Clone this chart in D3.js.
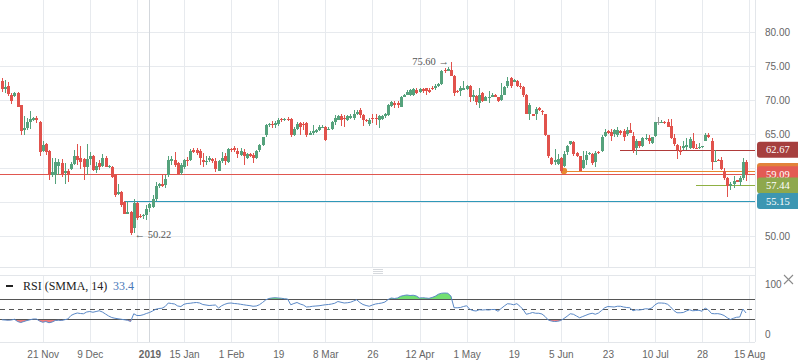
<!DOCTYPE html>
<html lang="en">
<head>
<meta charset="UTF-8">
<script src="https://d3js.org/d3.v7.min.js"></script>
<title>Brent candles with RSI</title>
<style>
  body { margin: 0; background: #fff; }
  svg { display: block; font-family: "Liberation Serif", "Times New Roman", serif; }
  .axis text { fill: #666; font-size: 10px; }
</style>
</head>
<body>
<svg id="chart" width="798" height="363"></svg>
<script>
// ---- data (one bar per trading day, index 0 = left edge) ----
const opens = [
  72.8,71.6,72.1,70.8,70.6,71.0,69.2,65.6,65.9,66.7, 67.1,67.3,66.8,62.5,63.6,62.5,59.0,59.0,60.3,60.7,
  59.3,59.6,59.9,60.6,61.8,61.5,61.3,60.2,61.3,61.7, 59.7,60.7,60.3,61.5,60.2,60.2,59.0,56.2,56.5,55.0,
  53.3,53.6,51.2,54.9,53.0,52.9,53.1,54.1,54.3,55.4, 57.3,57.7,57.5,59.0,61.1,61.2,60.7,59.2,60.2,61.2,
  61.2,62.6,62.6,62.5,61.2,61.0,61.2,61.3,61.0,59.6, 61.0,61.7,60.9,62.8,62.9,62.5,61.9,62.4,61.5,62.0,
  61.9,61.5,62.6,63.4,64.8,66.3,66.5,66.3,66.4,67.2, 67.1,67.2,67.2,64.9,65.8,66.6,66.4,66.6,64.9,65.1,
  65.3,65.6,66.0,66.1,65.7,65.8,66.7,67.1,67.6,67.4, 67.1,67.3,67.3,68.0,68.5,67.8,67.0,66.5,67.4,67.4,
  67.1,67.2,67.6,67.8,69.1,69.6,69.6,69.0,70.5,70.8, 70.8,70.8,71.5,71.2,71.6,71.7,71.5,71.8,71.7,72.0,
  72.3,74.4,74.3,74.4,73.6,71.3,71.3,71.5,71.6,72.0, 70.5,70.6,69.5,71.0,69.9,70.3,70.5,70.7,70.4,70.0,
  70.8,72.1,73.3,72.7,72.8,72.1,71.9,70.8,68.0,67.9, 68.0,68.8,68.4,67.9,64.8,61.5,60.9,60.6,61.4,60.3,
  62.3,63.5,63.8,62.2,61.7,60.0,61.2,62.0,62.0,60.9, 62.3,62.5,64.7,65.5,65.35,65.0,64.9,65.4,65.5,65.0,
  65.6,64.7,62.9,63.9,63.2,64.2,64.4,63.7,64.7,66.7, 66.7,66.8,66.7,66.2,64.4,63.4,62.7,63.0,63.1,63.0,
  63.9,63.0,62.9,63.1,64.0,64.9,64.0,61.0,61.2,61.2, 59.5,58.5,57.4,57.6,58.2,58.0,58.5,60.9
];
const highs = [
  73.3,72.9,72.6,71.0,71.2,71.2,69.3,67.6,67.3,68.4, 67.5,67.6,66.9,64.0,63.7,62.6,61.4,61.4,61.3,61.3,
  60.7,59.8,60.9,62.6,63.5,63.3,61.5,63.6,62.3,61.9, 60.9,61.2,62.0,61.7,60.5,60.3,59.1,57.7,56.6,55.1,
  55.1,53.7,55.4,55.0,53.2,53.3,54.6,54.9,56.0,57.9, 57.8,58.9,59.0,61.7,61.7,62.4,60.9,60.7,61.3,61.6,
  62.8,62.9,62.9,62.8,62.2,61.7,61.8,61.5,61.4,61.2, 62.3,62.2,63.0,63.0,63.3,62.9,62.9,62.8,62.2,62.2,
  62.2,62.7,63.5,64.6,66.4,66.6,66.9,66.9,67.3,67.4, 67.3,67.5,67.3,66.0,66.7,66.8,66.8,66.7,65.4,66.3,
  65.7,66.3,66.3,66.2,66.0,66.9,67.8,67.8,68.0,67.8, 67.8,67.9,68.5,68.5,68.8,68.0,67.2,67.3,67.9,68.0,
  67.8,67.8,68.1,69.4,69.9,69.8,69.8,70.6,70.9,71.4, 71.6,71.7,71.7,71.8,71.8,71.8,71.7,72.1,72.3,72.5,
  74.4,74.7,74.8,75.6,73.7,71.4,72.1,72.8,72.2,72.2, 71.5,70.8,71.7,71.2,70.6,71.3,71.0,70.9,70.5,72.5,
  72.0,73.4,73.4,73.1,72.9,72.5,72.0,70.9,69.5,68.0, 68.9,68.9,68.5,68.0,64.9,61.6,62.8,62.1,61.6,62.5,
  63.4,64.0,63.9,62.3,61.8,62.5,62.5,62.4,62.2,62.5, 62.5,64.8,65.7,65.6,65.7,65.8,66.0,65.6,65.7,66.0,
  66.6,65.3,64.2,64.0,64.5,65.0,64.9,64.6,66.8,67.5, 67.0,66.9,67.2,67.2,65.0,63.6,63.2,63.9,64.4,64.5,
  65.1,63.6,63.7,63.3,65.1,65.2,64.4,62.7,61.3,61.6, 60.0,58.7,58.0,58.8,58.3,58.8,61.4,61.2
];
const lows = [
  71.2,71.0,70.6,69.4,70.4,68.9,64.8,64.8,65.6,65.8, 66.9,66.6,61.7,62.3,61.9,58.3,58.7,57.7,59.0,58.7,
  57.7,58.0,59.7,60.4,60.4,59.8,58.2,59.0,60.4,59.5, 59.2,59.7,60.1,60.1,60.0,58.6,55.8,56.0,54.3,53.2,
  53.2,50.22,50.5,52.4,52.7,52.5,52.3,53.6,54.1,55.2, 57.0,57.2,57.0,58.7,60.4,60.2,59.0,59.0,59.9,60.3,
  61.0,62.2,61.9,60.5,60.2,60.5,60.9,60.8,59.4,59.5, 60.8,60.5,60.7,62.4,62.3,61.4,61.7,60.5,61.3,61.6,
  60.8,61.3,62.3,63.2,64.6,66.1,65.9,65.9,66.2,66.8, 66.9,66.9,64.5,64.7,65.6,64.9,65.6,64.6,64.8,64.9,
  65.1,65.5,65.9,64.0,65.6,65.6,66.3,67.0,66.2,66.1, 66.9,67.2,67.1,67.8,67.3,66.2,66.7,66.2,66.6,66.3,
  65.9,67.1,67.4,67.6,68.9,68.8,68.8,68.9,70.4,70.7, 70.6,70.6,70.9,71.0,71.1,70.8,71.0,71.5,71.5,71.9,
  72.2,73.9,74.2,73.5,70.6,71.0,70.6,71.4,71.5,69.7, 69.9,69.2,68.8,69.7,69.8,69.5,70.4,70.4,69.7,69.8,
  70.7,71.7,71.7,72.6,71.9,71.6,70.5,67.9,67.1,67.6, 67.1,68.4,67.8,64.7,61.5,60.4,60.4,60.5,59.2,60.2,
  61.9,63.4,61.8,61.6,59.5,59.8,60.5,61.9,60.4,60.2, 62.0,62.3,64.5,65.0,64.0,64.6,64.6,64.9,64.0,64.7,
  65.1,62.2,61.9,63.0,63.1,64.1,63.6,63.6,64.6,66.3, 66.6,66.5,66.0,64.2,63.2,61.3,61.9,62.65,62.7,62.75,
  62.75,62.75,62.75,63.0,63.9,64.4,59.7,60.9,61.0,59.7, 58.2,55.7,56.8,57.0,57.9,57.4,58.2,58.1
];
const closes = [
  71.6,71.9,70.9,69.9,71.0,69.0,65.4,65.9,66.7,67.2, 67.3,67.0,62.4,63.4,62.3,59.0,59.4,60.9,60.9,59.0,
  59.6,59.0,60.6,61.8,61.2,60.9,60.2,61.3,61.7,59.7, 60.3,60.1,61.5,60.2,60.3,58.7,56.0,56.4,54.6,53.3,
  53.6,50.4,54.9,52.6,52.9,53.1,54.0,54.7,55.4,57.3, 57.6,57.4,58.4,61.2,61.3,60.5,59.1,60.4,61.2,61.0,
  62.5,62.4,62.2,61.5,60.9,61.1,61.4,61.1,59.9,61.0, 61.5,61.0,62.8,62.6,62.6,62.0,62.5,61.7,62.0,61.8,
  61.5,62.5,63.4,64.5,66.3,66.4,66.3,66.6,67.1,67.0, 67.2,67.1,64.9,65.8,66.4,66.1,66.3,64.8,65.2,65.4,
  65.6,66.0,66.1,64.1,65.8,66.7,67.4,67.6,67.1,67.2, 67.6,67.7,68.0,68.3,67.8,67.1,66.9,67.1,67.2,67.2,
  67.6,67.6,67.9,69.2,69.7,69.3,69.2,70.5,70.7,71.2, 71.5,71.6,71.0,71.6,71.3,71.3,71.2,71.6,72.1,72.3,
  74.3,74.2,74.6,73.6,71.1,71.2,71.8,71.7,72.1,70.4, 70.7,69.7,70.8,69.9,70.5,70.5,70.8,70.5,69.9,70.8,
  71.9,72.8,72.1,72.9,72.1,71.95,70.8,68.0,69.3,67.7, 68.7,68.5,68.2,64.9,61.7,60.6,61.2,61.3,59.5,62.0,
  63.2,63.9,62.0,61.8,59.6,61.2,61.9,62.2,60.7,62.2, 62.2,64.6,65.3,65.2,64.7,65.6,65.6,65.1,64.5,65.6,
  65.2,62.65,63.9,63.2,64.4,64.4,63.9,64.5,66.7,66.7, 66.8,66.6,66.1,64.4,63.6,62.6,62.4,63.2,63.4,64.2,
  63.0,62.9,63.1,63.2,64.9,64.6,60.9,61.1,61.1,59.8, 58.5,57.4,57.7,58.1,58.0,58.5,60.9,59.09
];
const rsi = [
  28.5,28,27.5,28,29.5,25,23,25,27,28.5, 30,30,26,23.5,25,22.5,24,27,27.5,27,
  28.5,30,37,40,42,41,40.5,44,45,43.5, 45,46.5,44,40,36,33,31.5,30.5,29.5,28.5,
  27.5,25,40.5,37,37,38.5,41,43,46,49.5, 51,51.5,55,62,61,60,56,55,59.5,61,
  61.5,62.5,63,62,59,58,57,57.5,58,52, 56.5,59.5,61.5,62,61,60.5,59.5,58.5,57.5,56.7,
  55.5,56,58.5,63,68,71,72,72.5,72,71.5, 70.5,70,58.5,61,63,60,58,54,54.5,55.5,
  56,56.5,57.5,58.5,59,60,61.5,65,63.5,62, 62.5,63.5,66,68.5,63,59,57,55.5,58,60,
  61,62,64,69,72,71,72,75.5,77,78, 77,77.5,76,72,72.5,72,71.3,73,75.5,79.5,
  81.5,82,81.5,76,52.5,52.5,53,55,56.5,49.5, 47,46,48.5,48,48.5,48,49,49,45.5,51,
  56,60.5,60,58.5,60.7,55.5,49,39.5,41,43, 41.5,41.5,40,35,28,26,25,25.5,27,31,
  35.5,40.5,39.5,36,32.5,35,37.5,40,41.5,39.5, 42,47,52.5,55,54.5,54,55.5,55.5,54,53,
  52.5,46.5,48.5,48,49,50.5,50,52,58.5,62, 62,61.5,59.5,54,47,42.5,42.5,43,46,48.5,
  46.5,47,47.5,45.5,52,48,41,40.5,40.7,39.5, 37,32.5,29,31.5,33.5,34,50,42
];

const tickIdx    = [13, 28, 47, 58, 73, 88, 103, 118, 133, 148, 163, 178, 193, 208, 223, 238];
const tickLabels = ["21 Nov","9 Dec","2019","15 Jan","1 Feb","19","8 Mar","26","12 Apr","1 May","19","5 Jun","23","10 Jul","28","15 Aug"];
const gridIdx    = [13, 28, 43, 47, 58, 73, 88, 103, 118, 133, 148, 163, 178, 193, 208, 223, 238];
const priceTicks = [50, 55, 60, 65, 70, 75, 80];
const rsiTicks   = [0, 100];
const rsiBands   = [30, 50, 70];

// horizontal levels: value and first bar they start from
const levelVals  = [59.57, 62.67, 59.09, 57.44, 55.15];
const levelStart = [179, 197, 0, 221, 39];
const levelLine  = ["#e8892f", "#b03b3a", "#e0564f", "#8fb043", "#2f98b8"];
const levelTag   = ["#e2823a", "#a63f3e", "#e35b54", "#8ea84d", "#3c96b2"];
const tagHidden  = [true, false, false, false, false];   // orange tag sits under the 59.09 one

const hiIdx = 143, loIdx = 41;

// ---- layout ----
const svg = d3.select("#chart");
const right = 755;
const main = {top: 0, bottom: 267};
const pane = {top: 275, bottom: 342};

const n = closes.length;
const x = d3.scaleLinear().domain([0, n - 1]).range([1.88, 1.88 + (n - 1) * 3.14]);
const y = d3.scaleLinear().domain([50, 80]).range([236, 32]);
const yR = d3.scaleLinear().domain([0, 100]).range([334, 284]);

const grid = svg.append("g").attr("shape-rendering", "crispEdges");

// horizontal grid in main pane
grid.selectAll(".hg").data(priceTicks).enter().append("line")
  .attr("x1", 0).attr("x2", right)
  .attr("y1", d => Math.round(y(d)) + 0.5).attr("y2", d => Math.round(y(d)) + 0.5)
  .attr("stroke", "#e7eaee");

// vertical grid in both panes
gridIdx.forEach(function(g){
  const gx = Math.round(x(g)) + 0.5;
  const col = g === 47 ? "#d3d7dc" : "#e7eaee";
  grid.append("line").attr("x1", gx).attr("x2", gx).attr("y1", main.top).attr("y2", main.bottom).attr("stroke", col);
  grid.append("line").attr("x1", gx).attr("x2", gx).attr("y1", pane.top).attr("y2", pane.bottom).attr("stroke", col);
});

// pane borders
[main.bottom, pane.top, pane.bottom].forEach(function(b){
  grid.append("line").attr("x1", 0).attr("x2", right).attr("y1", b + 0.5).attr("y2", b + 0.5).attr("stroke", "#e3e6ea");
});
grid.append("line").attr("x1", right + 0.5).attr("x2", right + 0.5).attr("y1", 0).attr("y2", pane.bottom).attr("stroke", "#e3e6ea");

// separator handle
[269.5, 271.5, 273.5].forEach(function(hy){
  svg.append("line").attr("x1", 373).attr("x2", 383).attr("y1", hy).attr("y2", hy)
    .attr("stroke", "#d6d9dd").attr("shape-rendering", "crispEdges");
});

// ---- level lines ----
const lv = svg.append("g").attr("shape-rendering", "crispEdges");
levelVals.forEach(function(v, k){
  lv.append("line")
    .attr("x1", levelStart[k] === 0 ? 0 : x(levelStart[k])).attr("x2", right)
    .attr("y1", Math.round(y(v)) + 0.5).attr("y2", Math.round(y(v)) + 0.5)
    .attr("stroke", levelLine[k]).attr("stroke-width", 1);
});
svg.append("circle").attr("cx", x(levelStart[0])).attr("cy", y(levelVals[0])).attr("r", 3.2)
  .attr("fill", levelLine[0]);

// ---- candles ----
const green = "#55a27c", red = "#e1524c", grey = "#9a9a9a";
const colorOf = i => closes[i] > opens[i] ? green : (closes[i] < opens[i] ? red : grey);
const idx = d3.range(n);
const cg = svg.append("g").attr("shape-rendering", "crispEdges");

cg.selectAll(".wick").data(idx).enter().append("line")
  .attr("x1", i => Math.round(x(i)) + 0.5).attr("x2", i => Math.round(x(i)) + 0.5)
  .attr("y1", i => y(highs[i])).attr("y2", i => y(lows[i]))
  .attr("stroke", colorOf).attr("stroke-width", 1);

cg.selectAll(".body").data(idx).enter().append("rect")
  .attr("x", i => Math.round(x(i)) - 1)
  .attr("width", 3)
  .attr("y", i => y(Math.max(opens[i], closes[i])))
  .attr("height", i => Math.max(1, Math.abs(y(opens[i]) - y(closes[i]))))
  .attr("fill", colorOf);

// hi / lo annotations
svg.append("text").attr("x", x(hiIdx) - 2).attr("y", y(highs[hiIdx]) + 3.5)
  .attr("text-anchor", "end").attr("fill", "#555").attr("font-size", 10.5)
  .text(highs[hiIdx].toFixed(2) + " \u2192");
svg.append("text").attr("x", x(loIdx) + 4).attr("y", y(lows[loIdx]) + 3.5)
  .attr("fill", "#555").attr("font-size", 10.5)
  .text("\u2190 " + lows[loIdx].toFixed(2));

// ---- price axis (labels under a level tag are covered, so leave them out) ----
const tagYs = levelVals.map(v => y(v));
const shownTicks = priceTicks.filter(t => tagYs.every(ty => Math.abs(ty - y(t)) > 9));
svg.append("g").attr("class", "axis").attr("transform", `translate(${right},0)`)
  .call(d3.axisRight(y).tickValues(shownTicks).tickFormat(d3.format(".2f")).tickSize(0).tickPadding(10))
  .call(g => g.select(".domain").remove());

// level tags
levelVals.forEach(function(v, k){
  const ty = y(v);
  svg.append("rect").attr("x", 757).attr("y", ty - 8).attr("width", 50).attr("height", 16)
    .attr("rx", 3).attr("fill", levelTag[k]);
  if (!tagHidden[k]) {
    svg.append("text").attr("x", 766).attr("y", ty + 3.6).attr("fill", "#fff")
      .attr("font-size", 10.5).text(v.toFixed(2));
  }
});

// ---- RSI pane ----
const rp = svg.append("g");
const rsiArea = lvl => d3.area().x((d, i) => x(i)).y0(yR(lvl)).y1(d => yR(d));

svg.append("clipPath").attr("id", "above").append("rect")
  .attr("x", 0).attr("y", pane.top).attr("width", right).attr("height", yR(70) - pane.top);
svg.append("clipPath").attr("id", "below").append("rect")
  .attr("x", 0).attr("y", yR(30)).attr("width", right).attr("height", pane.bottom - yR(30));

rp.append("path").datum(rsi).attr("d", rsiArea(70)).attr("fill", "#72df72").attr("clip-path", "url(#above)");
rp.append("path").datum(rsi).attr("d", rsiArea(30)).attr("fill", "#f07d7d").attr("clip-path", "url(#below)");

rsiBands.forEach(function(b){
  rp.append("line").attr("x1", 0).attr("x2", right)
    .attr("y1", Math.round(yR(b)) + 0.5).attr("y2", Math.round(yR(b)) + 0.5)
    .attr("stroke", "#555").attr("stroke-dasharray", b === 50 ? "5,4" : null)
    .attr("shape-rendering", "crispEdges");
});

rp.append("path").datum(rsi)
  .attr("d", d3.line().x((d, i) => x(i)).y(d => yR(d)))
  .attr("fill", "none").attr("stroke", "#5a88c6").attr("stroke-width", 1);

svg.append("g").attr("class", "axis").attr("transform", `translate(${right},0)`)
  .call(d3.axisRight(yR).tickValues(rsiTicks).tickSize(0).tickPadding(10))
  .call(g => g.select(".domain").remove());

// close cross
svg.append("path").attr("d", "M784,275 L793,284 M793,275 L784,284")
  .attr("stroke", "#8a8a8a").attr("stroke-width", 1.1).attr("fill", "none");

// legend
svg.append("rect").attr("x", 6).attr("y", 285).attr("width", 7).attr("height", 2).attr("fill", "#222");
svg.append("text").attr("x", 23).attr("y", 290).attr("font-size", 12).attr("fill", "#222").text("RSI (SMMA, 14)");
svg.append("text").attr("x", 113).attr("y", 290).attr("font-size", 12).attr("fill", "#4a78b8").text("33.4");

// ---- time axis ----
svg.append("g").attr("class", "axis").attr("transform", `translate(0,${pane.bottom})`)
  .call(d3.axisBottom(x).tickValues(tickIdx).tickFormat((d, i) => tickLabels[i]).tickSize(0).tickPadding(9))
  .call(g => g.select(".domain").remove())
  .call(g => g.selectAll(".tick text").filter(d => d === 47)
    .attr("fill", "#111").attr("font-weight", "bold"));
</script>
</body>
</html>
